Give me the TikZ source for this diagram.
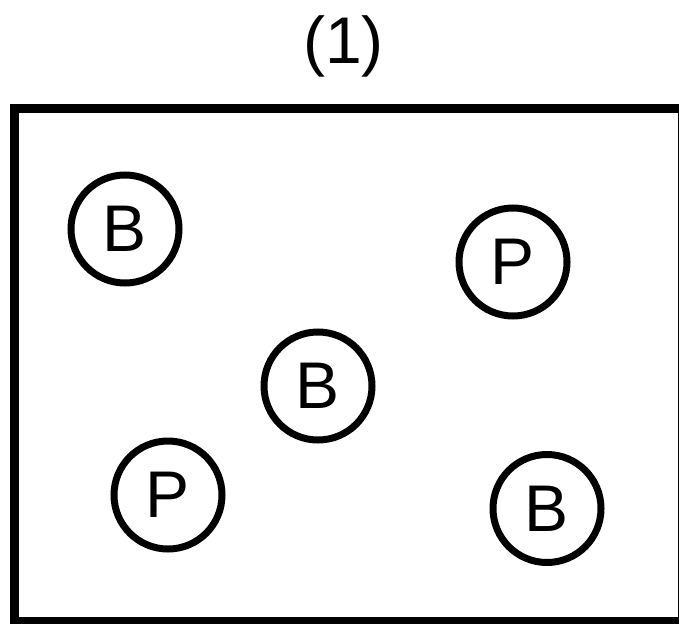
\documentclass[tikz,border=0pt]{standalone}
\usepackage{fontspec}
\setmainfont{Liberation Sans}
\begin{document}
\begin{tikzpicture}[x=1pt,y=-1pt,
  token/.style={circle,draw,line width=7pt,minimum size=108pt,inner sep=0pt,
    font=\fontsize{66}{66}\selectfont}]
\useasboundingbox (0,0) rectangle (679,623);
\clip (0,0) rectangle (679,623);
% frame
\draw[line width=9pt] (14.5,108.5) rectangle (682,621.5);
% caption
\node[anchor=base,inner sep=0pt,font=\fontsize{66}{66}\selectfont] (title) at (343.5,64) {(1)};
% tokens
\node[token] (b1) at (125,229) {B};
\node[token] (p1) at (513,262) {P};
\node[token] (b2) at (318,386) {B};
\node[token] (p2) at (168,495) {P};
\node[token] (b3) at (547,508.5) {B};
\end{tikzpicture}
\end{document}
